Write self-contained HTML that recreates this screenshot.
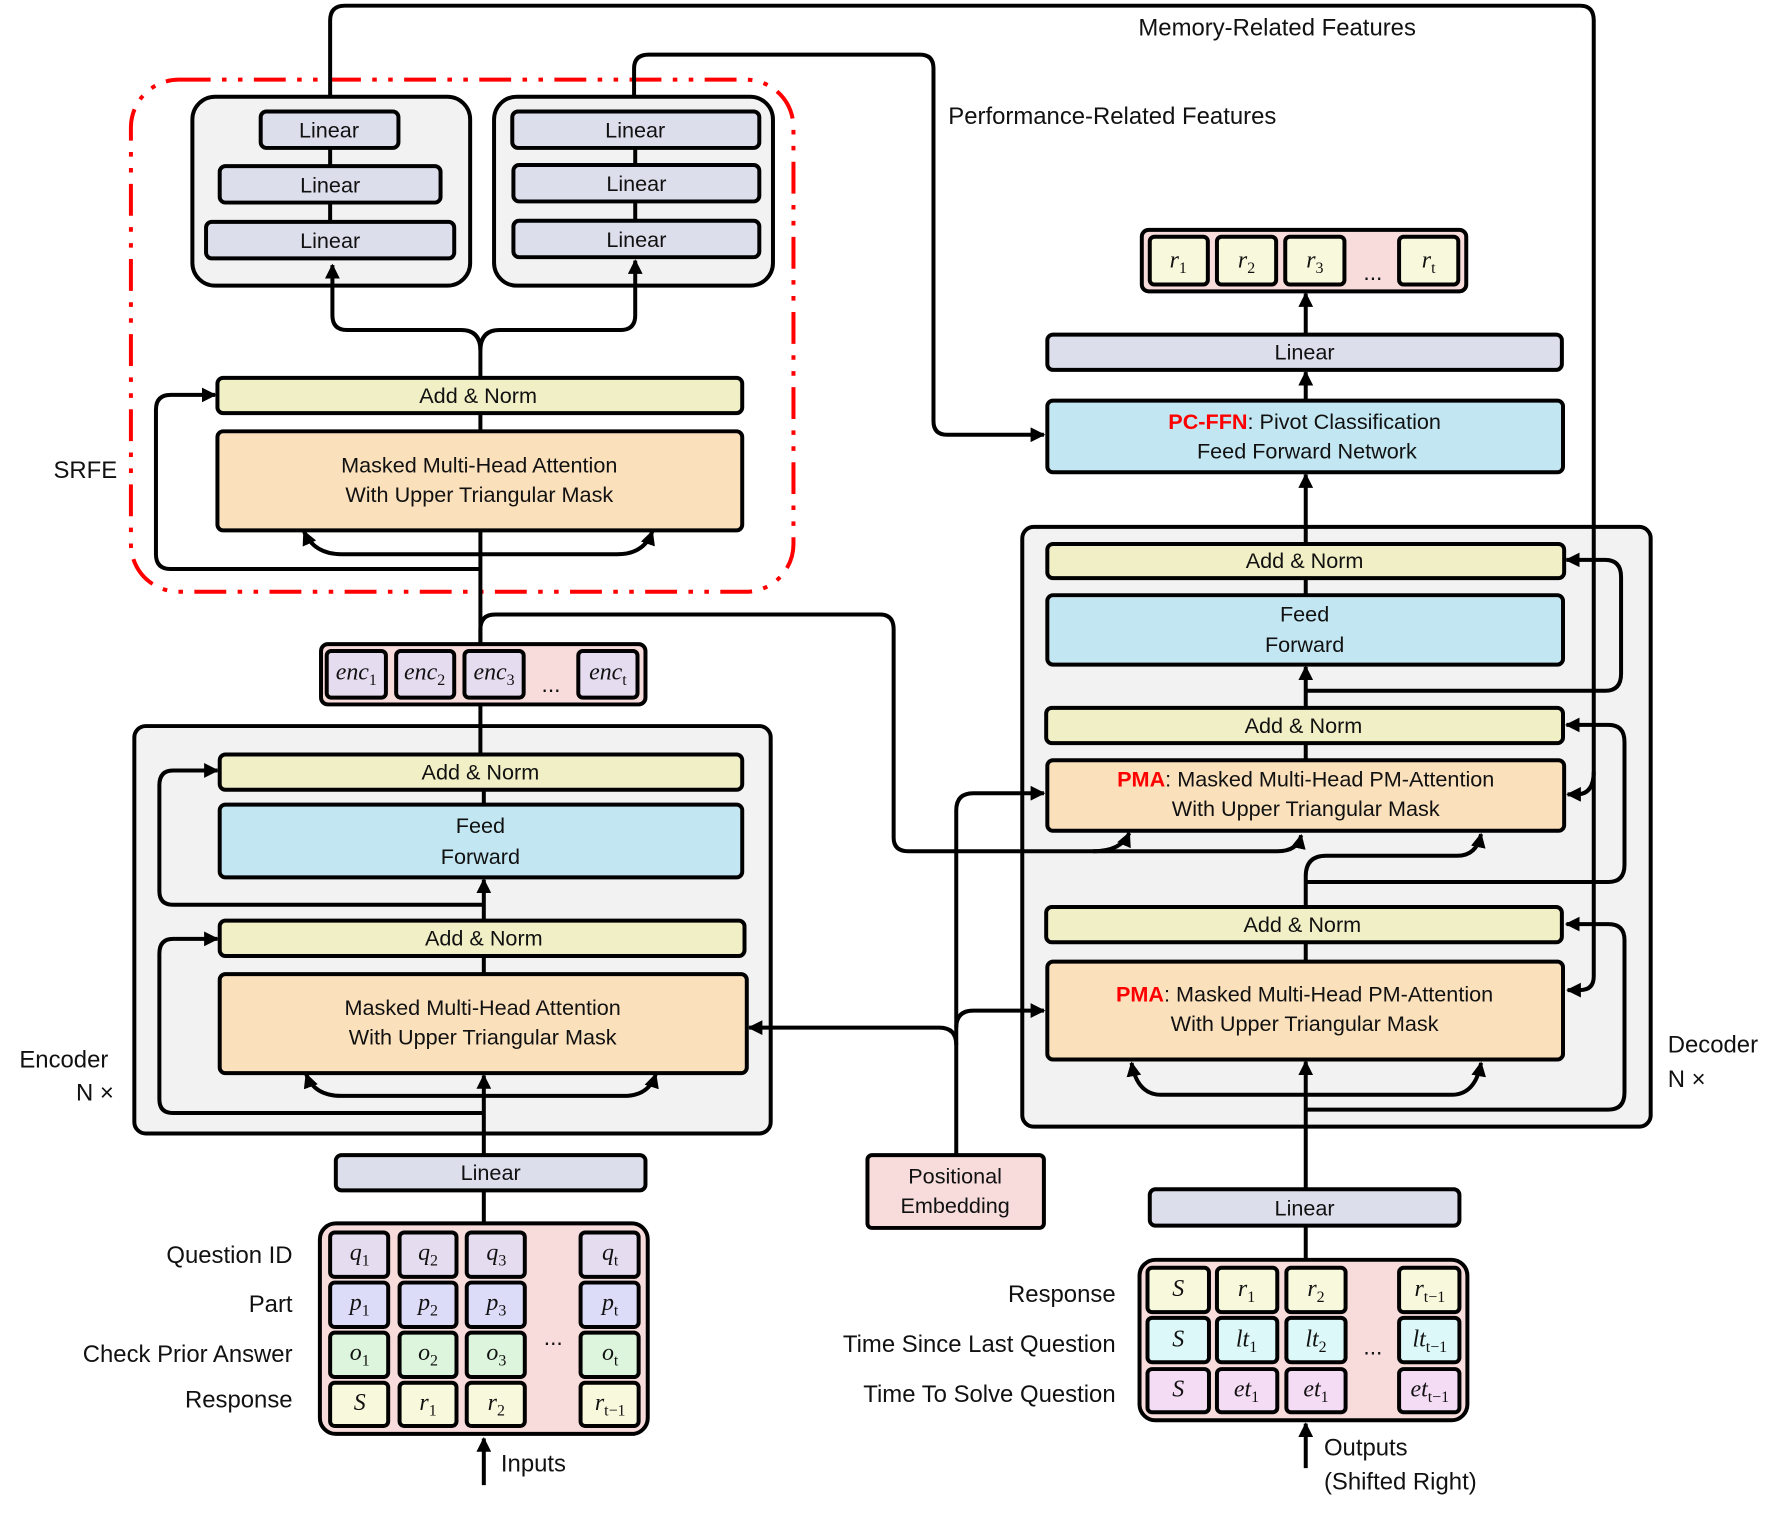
<!DOCTYPE html>
<html><head><meta charset="utf-8"><style>
html,body{margin:0;padding:0;background:#fff}
svg{display:block}
text{font-family:"Liberation Sans",sans-serif;font-size:19px;fill:#111}
.m{font-family:"Liberation Serif",serif;font-style:italic;font-size:21px}
.s{font-size:14px;font-style:normal}
.lb{font-size:21px}
.b{stroke:#000;stroke-width:3.5}
.l{fill:none;stroke:#000;stroke-width:3.5}
</style></head><body>
<svg width="1785" height="1517" viewBox="0 0 1568 1333" preserveAspectRatio="none" xmlns="http://www.w3.org/2000/svg">
<defs><marker id="a" viewBox="0 0 10 10" refX="9" refY="5" markerUnits="userSpaceOnUse" markerWidth="13" markerHeight="13" orient="auto"><path d="M0,0 L10,5 L0,10 z" fill="#000"/></marker></defs>

<rect x="118" y="638" width="559" height="358" rx="10" fill="#f2f2f2" class="b"/>
<rect x="898" y="463" width="552" height="527" rx="10" fill="#f2f2f2" class="b"/>
<rect x="169" y="85" width="244" height="166" rx="20" fill="#f2f2f2" class="b"/>
<rect x="434" y="85" width="245" height="166" rx="20" fill="#f2f2f2" class="b"/>
<rect x="115" y="70" width="582" height="450" rx="42" fill="none" stroke="#f00" stroke-width="3.5" stroke-dasharray="28,10,4,10,4,10"/>

<g class="l">
<path d="M290,85 V18 Q290,5 303,5 H1388 Q1400,5 1400,18 V858 Q1400,870 1388,870 H1377" marker-end="url(#a)"/>
<path d="M1400,678 Q1400,698 1385,698 H1377" marker-end="url(#a)"/>
<path d="M557,85 V60 Q557,48 570,48 H808 Q820,48 820,60 V370 Q820,382 832,382 H917" marker-end="url(#a)"/>
<path d="M290,130 V195 M558,130 V194 M422,570 V363"/>
<path d="M422,332 V308 Q422,290 405,290 H305 Q292,290 292,277 V233" marker-end="url(#a)"/>
<path d="M422,308 Q422,290 439,290 H545 Q558,290 558,277 V229" marker-end="url(#a)"/>
<path d="M422,487 H300 Q276,487 267,467" marker-end="url(#a)"/>
<path d="M422,487 H542 Q566,487 573,467" marker-end="url(#a)"/>
<path d="M422,500 H150 Q137,500 137,487 V360 Q137,347 150,347 H189" marker-end="url(#a)"/>
<path d="M422,566 V553 Q422,540 435,540 H773 Q785,540 785,553 V736 Q785,748 798,748 H1122 Q1140,748 1143,734" marker-end="url(#a)"/>
<path d="M960,748 Q985,748 992,732" marker-end="url(#a)"/>
<path d="M422,619 V663 M425,694 V707 M425,840 V856"/>
<path d="M425,1015 V945" marker-end="url(#a)"/>
<path d="M425,809 V773" marker-end="url(#a)"/>
<path d="M425,795 H152 Q140,795 140,783 V690 Q140,677 152,677 H191" marker-end="url(#a)"/>
<path d="M425,978 H152 Q140,978 140,966 V838 Q140,825 152,825 H191" marker-end="url(#a)"/>
<path d="M425,963 H300 Q276,963 269,944" marker-end="url(#a)"/>
<path d="M425,963 H548 Q570,963 576,944" marker-end="url(#a)"/>
<path d="M425,1046 V1075"/>
<path d="M425,1305 V1264" marker-end="url(#a)"/>
<path d="M840,1015 V712 Q840,697 855,697 H917" marker-end="url(#a)"/>
<path d="M840,903 Q840,888 855,888 H917" marker-end="url(#a)"/>
<path d="M840,918 Q840,903 825,903 H658" marker-end="url(#a)"/>
<path d="M1147,1045 V933" marker-end="url(#a)"/>
<path d="M1147,975 H1413 Q1427,975 1427,960 V826 Q1427,812 1413,812 H1376" marker-end="url(#a)"/>
<path d="M1147,962 H1020 Q999,962 994,934" marker-end="url(#a)"/>
<path d="M1147,962 H1275 Q1296,962 1301,934" marker-end="url(#a)"/>
<path d="M1147,845 V828 M1147,797 V770 Q1147,752 1165,752 H1280 Q1297,752 1301,733" marker-end="url(#a)"/>
<path d="M1147,775 H1413 Q1427,775 1427,760 V652 Q1427,637 1413,637 H1376" marker-end="url(#a)"/>
<path d="M1147,653 V668"/>
<path d="M1147,622 V586" marker-end="url(#a)"/>
<path d="M1147,607 H1410 Q1424,607 1424,592 V507 Q1424,492 1410,492 H1376" marker-end="url(#a)"/>
<path d="M1147,523 V508"/>
<path d="M1147,478 V417" marker-end="url(#a)"/>
<path d="M1147,352 V327" marker-end="url(#a)"/>
<path d="M1147,294 V258" marker-end="url(#a)"/>
<path d="M1147,1077 V1107"/>
<path d="M1147,1290 V1251" marker-end="url(#a)"/>
</g>

<g class="b" fill="#dcdeec">
<rect x="229" y="98" width="121" height="32" rx="5"/>
<rect x="193" y="146" width="194" height="32" rx="5"/>
<rect x="181" y="195" width="218" height="32" rx="5"/>
<rect x="450" y="98" width="217" height="32" rx="5"/>
<rect x="451" y="145" width="216" height="32" rx="5"/>
<rect x="451" y="194" width="216" height="32" rx="5"/>
<rect x="920" y="294" width="452" height="31" rx="5"/>
<rect x="295" y="1015" width="272" height="31" rx="5"/>
<rect x="1010" y="1045" width="272" height="32" rx="5"/>
</g>
<g text-anchor="middle">
<text x="289" y="121">Linear</text><text x="290" y="169">Linear</text><text x="290" y="218">Linear</text>
<text x="558" y="121">Linear</text><text x="559" y="168">Linear</text><text x="559" y="217">Linear</text>
<text x="1146" y="316">Linear</text><text x="431" y="1037">Linear</text><text x="1146" y="1068">Linear</text>
</g>

<g class="b" fill="#f1efc5">
<rect x="191" y="332" width="461" height="31" rx="5"/>
<rect x="193" y="663" width="459" height="31" rx="5"/>
<rect x="193" y="809" width="461" height="31" rx="5"/>
<rect x="920" y="478" width="454" height="30" rx="5"/>
<rect x="919" y="622" width="454" height="31" rx="5"/>
<rect x="919" y="797" width="453" height="31" rx="5"/>
</g>
<g text-anchor="middle">
<text x="420" y="354">Add &amp; Norm</text><text x="422" y="685">Add &amp; Norm</text><text x="425" y="831">Add &amp; Norm</text>
<text x="1146" y="499">Add &amp; Norm</text><text x="1145" y="644">Add &amp; Norm</text><text x="1144" y="819">Add &amp; Norm</text>
</g>

<g class="b" fill="#fae0bb">
<rect x="191" y="379" width="461" height="87" rx="5"/>
<rect x="193" y="856" width="463" height="87" rx="5"/>
<rect x="920" y="668" width="454" height="62" rx="5"/>
<rect x="920" y="845" width="453" height="86" rx="5"/>
</g>
<g class="b" fill="#c2e7f2">
<rect x="193" y="707" width="459" height="64" rx="5"/>
<rect x="920" y="523" width="453" height="61" rx="5"/>
<rect x="920" y="352" width="453" height="63" rx="5"/>
</g>
<g text-anchor="middle">
<text x="421" y="415">Masked Multi-Head Attention</text><text x="421" y="441">With Upper Triangular Mask</text>
<text x="424" y="892">Masked Multi-Head Attention</text><text x="424" y="918">With Upper Triangular Mask</text>
<text x="1147" y="691"><tspan fill="#f00" font-weight="bold">PMA</tspan>: Masked Multi-Head PM-Attention</text><text x="1147" y="717">With Upper Triangular Mask</text>
<text x="1146" y="880"><tspan fill="#f00" font-weight="bold">PMA</tspan>: Masked Multi-Head PM-Attention</text><text x="1146" y="906">With Upper Triangular Mask</text>
<text x="422" y="732">Feed</text><text x="422" y="759">Forward</text>
<text x="1146" y="546">Feed</text><text x="1146" y="573">Forward</text>
<text x="1146" y="377"><tspan fill="#f00" font-weight="bold">PC-FFN</tspan>: Pivot Classification</text><text x="1148" y="403">Feed Forward Network</text>
</g>

<rect x="762" y="1015" width="155" height="64" rx="4" fill="#f8dcdc" class="b"/>
<text x="839" y="1040" text-anchor="middle">Positional</text><text x="839" y="1066" text-anchor="middle">Embedding</text>

<rect x="282" y="566" width="285" height="53" rx="6" fill="#f8dcdc" class="b"/>
<g class="b" fill="#e6dcf0">
<rect x="287" y="572" width="52" height="41" rx="4"/><rect x="348" y="572" width="51" height="41" rx="4"/><rect x="408" y="572" width="52" height="41" rx="4"/><rect x="508" y="572" width="52" height="41" rx="4"/>
</g>
<g text-anchor="middle" class="m">
<text x="313" y="597" class="m">enc<tspan class="s" dy="5">1</tspan></text>
<text x="373" y="597" class="m">enc<tspan class="s" dy="5">2</tspan></text>
<text x="434" y="597" class="m">enc<tspan class="s" dy="5">3</tspan></text>
<text x="534" y="597" class="m">enc<tspan class="s" dy="5">t</tspan></text>
</g>
<text x="484" y="608" text-anchor="middle" style="font-size:20px">...</text>

<rect x="1003" y="202" width="285" height="54" rx="6" fill="#f8dcdc" class="b"/>
<g class="b" fill="#f8f8dc">
<rect x="1010" y="208" width="51" height="42" rx="4"/><rect x="1069" y="208" width="52" height="42" rx="4"/><rect x="1129" y="208" width="52" height="42" rx="4"/><rect x="1229" y="208" width="52" height="42" rx="4"/>
</g>
<g text-anchor="middle">
<text x="1035" y="235" class="m">r<tspan class="s" dy="5">1</tspan></text>
<text x="1095" y="235" class="m">r<tspan class="s" dy="5">2</tspan></text>
<text x="1155" y="235" class="m">r<tspan class="s" dy="5">3</tspan></text>
<text x="1255" y="235" class="m">r<tspan class="s" dy="5">t</tspan></text>
</g>
<text x="1206" y="246" text-anchor="middle" style="font-size:20px">...</text>

<rect x="281" y="1075" width="288" height="185" rx="14" fill="#f8dcdc" class="b"/>
<g class="b">
<g fill="#e6dcf0"><rect x="290" y="1083" width="51" height="39" rx="4"/><rect x="351" y="1083" width="50" height="39" rx="4"/><rect x="410" y="1083" width="51" height="39" rx="4"/><rect x="510" y="1083" width="51" height="39" rx="4"/></g>
<g fill="#dcdcf8"><rect x="290" y="1127" width="51" height="39" rx="4"/><rect x="351" y="1127" width="50" height="39" rx="4"/><rect x="410" y="1127" width="51" height="39" rx="4"/><rect x="510" y="1127" width="51" height="39" rx="4"/></g>
<g fill="#dcf5dc"><rect x="290" y="1171" width="51" height="39" rx="4"/><rect x="351" y="1171" width="50" height="39" rx="4"/><rect x="410" y="1171" width="51" height="39" rx="4"/><rect x="510" y="1171" width="51" height="39" rx="4"/></g>
<g fill="#f8f8dc"><rect x="290" y="1215" width="51" height="38" rx="4"/><rect x="351" y="1215" width="50" height="38" rx="4"/><rect x="410" y="1215" width="51" height="38" rx="4"/><rect x="510" y="1215" width="51" height="38" rx="4"/></g>
</g>
<g text-anchor="middle">
<text x="316" y="1107" class="m">q<tspan class="s" dy="5">1</tspan></text><text x="376" y="1107" class="m">q<tspan class="s" dy="5">2</tspan></text><text x="436" y="1107" class="m">q<tspan class="s" dy="5">3</tspan></text><text x="536" y="1107" class="m">q<tspan class="s" dy="5">t</tspan></text>
<text x="316" y="1151" class="m">p<tspan class="s" dy="5">1</tspan></text><text x="376" y="1151" class="m">p<tspan class="s" dy="5">2</tspan></text><text x="436" y="1151" class="m">p<tspan class="s" dy="5">3</tspan></text><text x="536" y="1151" class="m">p<tspan class="s" dy="5">t</tspan></text>
<text x="316" y="1195" class="m">o<tspan class="s" dy="5">1</tspan></text><text x="376" y="1195" class="m">o<tspan class="s" dy="5">2</tspan></text><text x="436" y="1195" class="m">o<tspan class="s" dy="5">3</tspan></text><text x="536" y="1195" class="m">o<tspan class="s" dy="5">t</tspan></text>
<text x="316" y="1239" class="m">S</text><text x="376" y="1239" class="m">r<tspan class="s" dy="5">1</tspan></text><text x="436" y="1239" class="m">r<tspan class="s" dy="5">2</tspan></text><text x="536" y="1239" class="m">r<tspan class="s" dy="5">t−1</tspan></text>
</g>
<text x="486" y="1182" text-anchor="middle" style="font-size:20px">...</text>

<rect x="1001" y="1107" width="288" height="141" rx="14" fill="#f8dcdc" class="b"/>
<g class="b">
<g fill="#f8f8dc"><rect x="1008" y="1114" width="54" height="39" rx="4"/><rect x="1069" y="1114" width="53" height="39" rx="4"/><rect x="1130" y="1114" width="52" height="39" rx="4"/><rect x="1229" y="1114" width="53" height="39" rx="4"/></g>
<g fill="#dcf8f8"><rect x="1008" y="1158" width="54" height="39" rx="4"/><rect x="1069" y="1158" width="53" height="39" rx="4"/><rect x="1130" y="1158" width="52" height="39" rx="4"/><rect x="1229" y="1158" width="53" height="39" rx="4"/></g>
<g fill="#f5dcf5"><rect x="1008" y="1203" width="54" height="38" rx="4"/><rect x="1069" y="1203" width="53" height="38" rx="4"/><rect x="1130" y="1203" width="52" height="38" rx="4"/><rect x="1229" y="1203" width="53" height="38" rx="4"/></g>
</g>
<g text-anchor="middle">
<text x="1035" y="1139" class="m">S</text><text x="1095" y="1139" class="m">r<tspan class="s" dy="5">1</tspan></text><text x="1156" y="1139" class="m">r<tspan class="s" dy="5">2</tspan></text><text x="1256" y="1139" class="m">r<tspan class="s" dy="5">t−1</tspan></text>
<text x="1035" y="1183" class="m">S</text><text x="1095" y="1183" class="m">lt<tspan class="s" dy="5">1</tspan></text><text x="1156" y="1183" class="m">lt<tspan class="s" dy="5">2</tspan></text><text x="1256" y="1183" class="m">lt<tspan class="s" dy="5">t−1</tspan></text>
<text x="1035" y="1227" class="m">S</text><text x="1095" y="1227" class="m">et<tspan class="s" dy="5">1</tspan></text><text x="1156" y="1227" class="m">et<tspan class="s" dy="5">1</tspan></text><text x="1256" y="1227" class="m">et<tspan class="s" dy="5">t−1</tspan></text>
</g>
<text x="1206" y="1190" text-anchor="middle" style="font-size:20px">...</text>

<g class="lb">
<text x="1000" y="31" class="lb">Memory-Related Features</text>
<text x="833" y="109" class="lb">Performance-Related Features</text>
<text x="47" y="420" class="lb">SRFE</text>
<text x="17" y="938" class="lb">Encoder</text>
<text x="100" y="967" class="lb" text-anchor="end">N ×</text>
<text x="1465" y="925" class="lb">Decoder</text>
<text x="1465" y="955" class="lb">N ×</text>
<text x="257" y="1110" class="lb" text-anchor="end">Question ID</text>
<text x="257" y="1153" class="lb" text-anchor="end">Part</text>
<text x="257" y="1197" class="lb" text-anchor="end">Check Prior Answer</text>
<text x="257" y="1237" class="lb" text-anchor="end">Response</text>
<text x="980" y="1144" class="lb" text-anchor="end">Response</text>
<text x="980" y="1188" class="lb" text-anchor="end">Time Since Last Question</text>
<text x="980" y="1232" class="lb" text-anchor="end">Time To Solve Question</text>
<text x="440" y="1293" class="lb">Inputs</text>
<text x="1163" y="1279" class="lb">Outputs</text>
<text x="1163" y="1309" class="lb">(Shifted Right)</text>
</g>
</svg>
</body></html>
